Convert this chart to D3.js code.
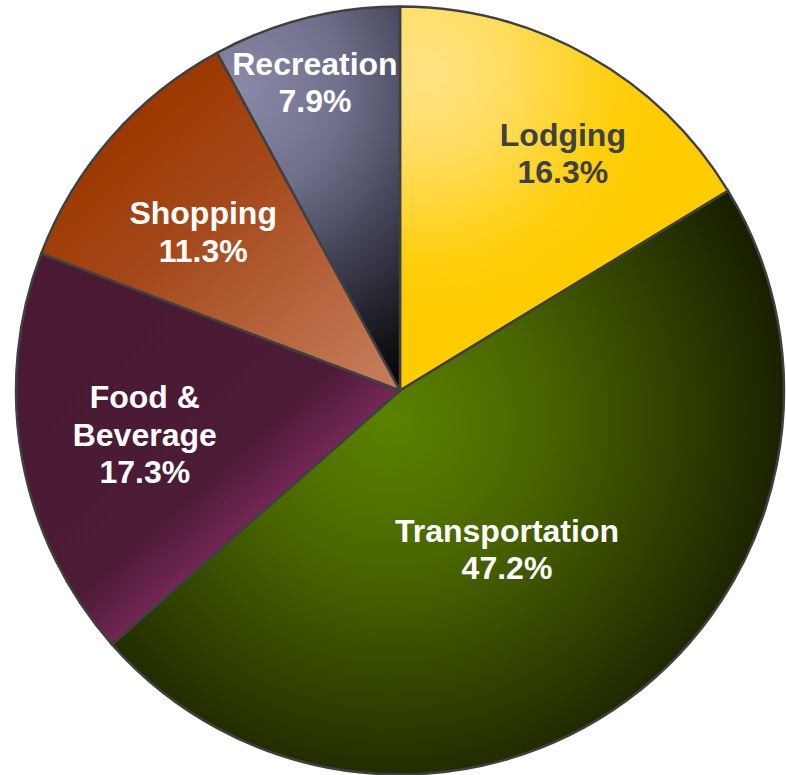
<!DOCTYPE html>
<html>
<head>
<meta charset="utf-8">
<script src="https://cdn.jsdelivr.net/npm/d3@7"></script>
<style>
  html, body { margin: 0; padding: 0; background: #ffffff; }
  svg { display: block; }
</style>
</head>
<body>
<svg id="chart" width="786" height="775"></svg>
<script>
// ---- data ----
const categories = ["Lodging", "Transportation", "Food & Beverage", "Shopping", "Recreation"];
const labelLines = [["Lodging"], ["Transportation"], ["Food &", "Beverage"], ["Shopping"], ["Recreation"]];
const values = [16.3, 47.2, 17.3, 11.3, 7.9];

// ---- layout / style ----
const W = 786, H = 775;
const cx = 400, cy = 390.5, R = 384;
const labelRadius = [288, 191, 259, 253, 320];
const labelAngleShift = [5.1, 2.3, 0.5, -2.3, -1.2]; // degrees
const textColors = ["#404040", "#ffffff", "#ffffff", "#ffffff", "#ffffff"];
const fontSize = 32, lineH = 37.5;

const svg = d3.select("#chart");
const defs = svg.append("defs");

function radial(id, fx, fy, r, stops) {
  const g = defs.append("radialGradient").attr("id", id)
    .attr("gradientUnits", "userSpaceOnUse")
    .attr("cx", fx).attr("cy", fy).attr("fx", fx).attr("fy", fy).attr("r", r);
  stops.forEach(s => g.append("stop").attr("offset", s[0]).attr("stop-color", s[1]));
}
function linear(id, x1, y1, x2, y2, stops) {
  const g = defs.append("linearGradient").attr("id", id)
    .attr("gradientUnits", "userSpaceOnUse")
    .attr("x1", x1).attr("y1", y1).attr("x2", x2).attr("y2", y2);
  stops.forEach(s => g.append("stop").attr("offset", s[0]).attr("stop-color", s[1]));
}
radial("g0", 25, -320, 250, [[0, "#FFE384"], [0.3, "#FFDE66"], [0.75, "#FFCF10"], [1, "#FFCC00"]]);
radial("g1", -10, 30, 420, [[0, "#5C8200"], [0.35, "#4A6600"], [0.75, "#2A3800"], [1, "#141A00"]]);
linear("g2", -167, -186, 0, 0, [[0, "#4A1A33"], [0.75, "#4C1B35"], [1, "#742756"]]);
linear("g3", -250, -290, -20, -20, [[0, "#9C3800"], [0.35, "#A4481A"], [1, "#C47A58"]]);
radial("g4", -160, -300, 340, [[0, "#8A8AA8"], [0.3, "#70708C"], [0.6, "#3C3C4E"], [0.85, "#141418"], [1, "#050507"]]);

const g = svg.append("g").attr("transform", `translate(${cx},${cy})`);

const pie = d3.pie().sort(null).value(d => d).startAngle(0).endAngle(2 * Math.PI);
const arcs = pie(values);
const arc = d3.arc().innerRadius(0).outerRadius(R);

g.selectAll("path.slice")
  .data(arcs)
  .join("path")
  .attr("class", "slice")
  .attr("d", arc)
  .attr("fill", (d, i) => `url(#g${i})`)
  .attr("stroke", "#404040")
  .attr("stroke-width", 2.5)
  .attr("stroke-linejoin", "round");

g.selectAll("text.lbl")
  .data(arcs)
  .join("text")
  .attr("class", "lbl")
  .attr("text-anchor", "middle")
  .attr("font-family", "'Liberation Sans', Arial, Helvetica, sans-serif")
  .attr("font-weight", "bold")
  .attr("font-size", fontSize)
  .attr("fill", (d, i) => textColors[i])
  .each(function(d, i) {
    const a = (d.startAngle + d.endAngle) / 2 + labelAngleShift[i] * Math.PI / 180;
    const r = labelRadius[i];
    const x = r * Math.sin(a), y = -r * Math.cos(a);
    const lines = labelLines[i].concat([d3.format(".1f")(values[i]) + "%"]);
    const n = lines.length;
    const t = d3.select(this);
    lines.forEach((ln, k) => {
      t.append("tspan")
        .attr("x", x)
        .attr("y", y + (k - (n - 1) / 2) * lineH + fontSize * 0.36)
        .text(ln);
    });
  });
</script>
</body>
</html>
